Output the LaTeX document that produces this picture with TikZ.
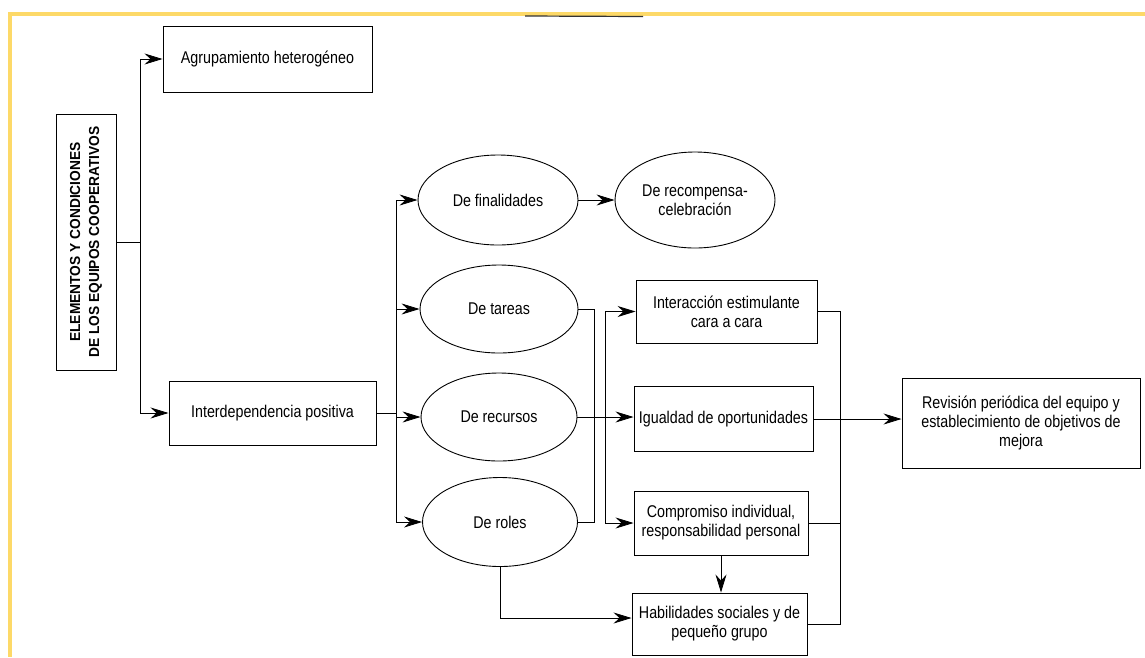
\documentclass[tikz,border=0pt]{standalone}
\usepackage{fontspec}
\setmainfont{Liberation Sans}[FakeStretch=0.84]
\newfontfamily\titlefont{Liberation Sans}[FakeStretch=0.95]
\usetikzlibrary{shapes.geometric,arrows.meta,calc}
\definecolor{scanyellow}{RGB}{253,217,104}
\begin{document}
\begin{tikzpicture}[x=1pt,y=-1pt,
  txt/.style={font=\fontsize{17}{19}\selectfont},
  box/.style={draw, line width=0.95pt, align=center, inner sep=2pt, txt},
  oval/.style={draw, ellipse, line width=0.9pt, align=center, inner sep=0pt, txt},
  arr/.style={-{Stealth[length=18pt,width=11pt,inset=6pt]}, line width=0.8pt},
  con/.style={line width=0.8pt}]
\useasboundingbox (0,0) rectangle (1145,657);
\fill[white] (0,0) rectangle (1145,657);
% scan frame
\fill[scanyellow] (7.5,11.5) rectangle (1145,15.5);
\fill[scanyellow] (7.5,11.5) rectangle (11.5,657);
\draw[line width=1.2pt, black!80] (525,16) -- (643,16.5);

% title
\node[draw, line width=0.95pt, minimum width=60pt, minimum height=256pt, inner sep=0pt] (title) at (86,242) {};
\node[rotate=90, align=center, font=\titlefont\bfseries\fontsize{14.5}{19}\selectfont] (titletext) at (title.center) {ELEMENTOS Y CONDICIONES\\DE LOS EQUIPOS COOPERATIVOS};

% boxes
\node[box, minimum width=209pt, minimum height=66pt] (agr) at (267.5,59) {Agrupamiento heterogéneo};
\node[box, minimum width=207pt, minimum height=64pt] (inter) at (272.5,413) {Interdependencia positiva};

% ellipses
\node[oval, minimum width=160pt, minimum height=90pt] (fin) at (498,200) {De finalidades};
\node[oval, minimum width=158pt, minimum height=88pt] (tar) at (499,309) {De tareas};
\node[oval, minimum width=156pt, minimum height=88pt] (rec) at (499,417) {De recursos};
\node[oval, minimum width=155pt, minimum height=89pt] (rol) at (500,522) {De roles};
\node[oval, minimum width=160pt, minimum height=96pt] (recomp) at (695,200) {De recompensa-\\celebración};

% right column
\node[box, minimum width=181pt, minimum height=63pt] (intc) at (726.5,311.5) {Interacción estimulante\\cara a cara};
\node[box, minimum width=179pt, minimum height=65pt] (igu) at (723.5,419) {Igualdad de oportunidades};
\node[box, minimum width=174pt, minimum height=64pt] (comp) at (721,523) {Compromiso individual,\\responsabilidad personal};
\node[box, minimum width=175pt, minimum height=62pt] (hab) at (719.5,624) {Habilidades sociales y de\\pequeño grupo};
\node[box, minimum width=238pt, minimum height=90pt] (rev) at (1021,423) {Revisión periódica del equipo y\\establecimiento de objetivos de\\mejora};

% connectors: title
\coordinate (t1) at (140,242);
\draw[con] (title.east) -- (t1);
\draw[arr] (t1) |- (agr.west);
\draw[arr] (t1) |- (inter.west);

% interdependencia to ellipses
\coordinate (t2) at (396,413);
\draw[con] (inter.east) -- (t2);
\draw[arr] (t2) |- (fin.west);
\draw[arr] (t2) |- (tar.west);
\draw[arr] (t2) |- (rec.west);
\draw[arr] (t2) |- (rol.west);

\draw[arr] (fin.east) -- (recomp.west);

% tareas / roles bracket
\coordinate (t3) at (594,309);
\draw[con] (tar.east) -- (t3) |- (rol.east);

% recursos to igualdad
\draw[arr] (rec.east) -- (rec.east -| igu.west);

% bracket to interaccion / compromiso
\coordinate (b1) at (605,311.5);
\coordinate (b2) at (605,523);
\draw[con] (b1) -- (b2);
\draw[arr] (b1) -- (intc.west);
\draw[arr] (b2) -- (comp.west);

% compromiso to habilidades
\draw[arr] (comp.south) -- (comp.south |- hab.north);

% roles to habilidades
\draw[arr] (rol.south) |- ([yshift=6pt]hab.west);

% right bracket
\coordinate (r1) at (840,311.5);
\coordinate (r2) at (840,624);
\draw[con] (intc.east) -- (r1) -- (r2) -- (hab.east);
\draw[con] (comp.east) -- (comp.east -| r1);

% igualdad to revision
\draw[arr] (igu.east) -- (igu.east -| rev.west);
\end{tikzpicture}
\end{document}
